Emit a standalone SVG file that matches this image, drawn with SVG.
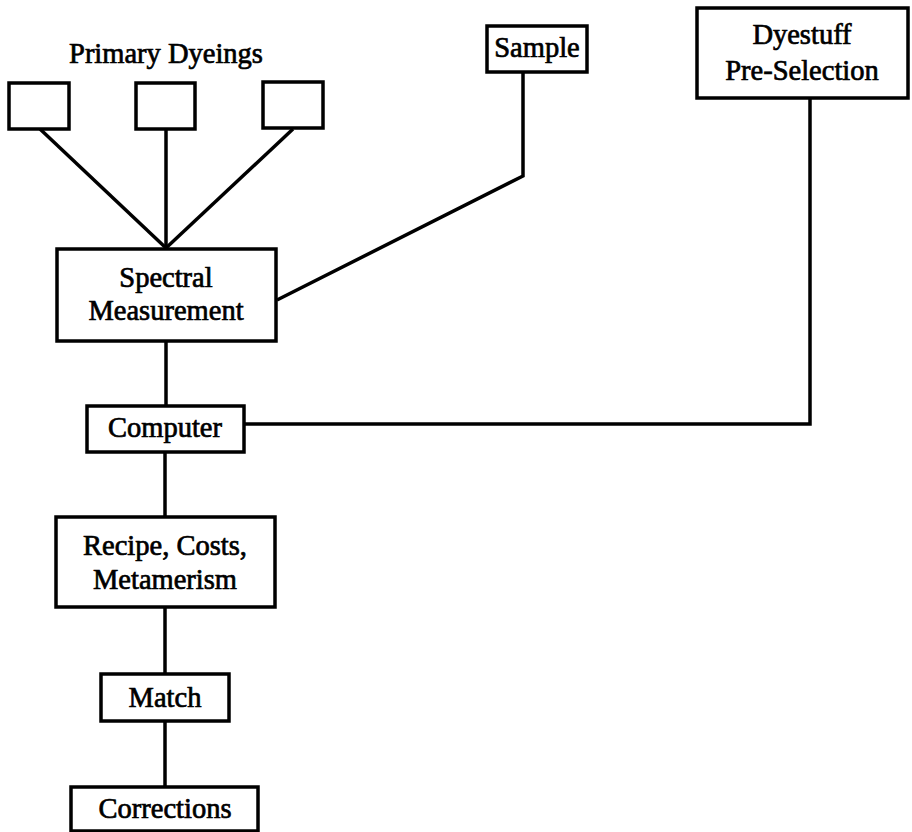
<svg xmlns="http://www.w3.org/2000/svg" width="912" height="832" viewBox="0 0 912 832">
<style>
.box{fill:#fff;stroke:#000;stroke-width:3.5}
.ln{fill:none;stroke:#000;stroke-width:3.5;stroke-linejoin:miter}
text{font-family:"Liberation Serif","Times New Roman",serif;font-size:28.5px;fill:#000;stroke:#000;stroke-width:0.7;text-anchor:middle}
</style>
<rect width="912" height="832" fill="#fff"/>
<g id="connectors">
<line class="ln" x1="40" y1="129" x2="166" y2="248"/>
<line class="ln" x1="166" y1="129" x2="166" y2="248"/>
<line class="ln" x1="293" y1="129" x2="166" y2="248"/>
<polyline class="ln" points="523,72 523,176 277,300"/>
<polyline class="ln" points="810,98 810,424 244,424"/>
<line class="ln" x1="166" y1="341" x2="166" y2="406"/>
<line class="ln" x1="165" y1="452" x2="165" y2="517"/>
<line class="ln" x1="165" y1="607" x2="165" y2="674"/>
<line class="ln" x1="165" y1="721" x2="165" y2="787"/>
</g>
<g id="primary-label"><text x="166" y="63">Primary Dyeings</text></g>
<g id="dyeing1"><rect class="box" x="9" y="83" width="60" height="46"/></g>
<g id="dyeing2"><rect class="box" x="136" y="83" width="59" height="46"/></g>
<g id="dyeing3"><rect class="box" x="263" y="82" width="60" height="46"/></g>
<g id="sample"><rect class="box" x="487" y="26" width="100" height="46"/><text x="537" y="57">Sample</text></g>
<g id="dyestuff"><rect class="box" x="697" y="8" width="211" height="90"/><text x="802" y="44">Dyestuff</text><text x="802" y="80">Pre-Selection</text></g>
<g id="spectral"><rect class="box" x="57" y="249" width="219" height="92"/><text x="166" y="287">Spectral</text><text x="166" y="320">Measurement</text></g>
<g id="computer"><rect class="box" x="87" y="406" width="157" height="46"/><text x="165" y="437">Computer</text></g>
<g id="recipe"><rect class="box" x="56" y="517" width="219" height="90"/><text x="165" y="555">Recipe, Costs,</text><text x="165" y="589">Metamerism</text></g>
<g id="match"><rect class="box" x="101" y="674" width="128" height="47"/><text x="165" y="707">Match</text></g>
<g id="corrections"><rect class="box" x="71" y="787" width="187" height="44"/><text x="165" y="818">Corrections</text></g>
</svg>
